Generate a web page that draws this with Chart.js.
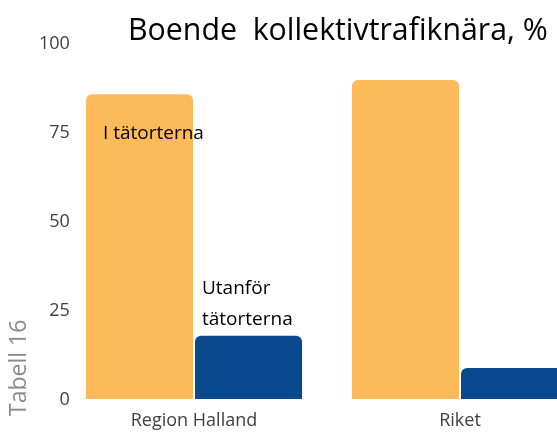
<!DOCTYPE html>
<html>
<head>
<meta charset="utf-8">
<script src="https://cdn.jsdelivr.net/npm/chart.js@4"></script>
<style>
  html, body { margin: 0; padding: 0; background: #fff; overflow: hidden; }
  #wrap { position: relative; width: 557px; height: 432px; overflow: hidden; }
  #c { position: absolute; left: 0; top: 0; }
  #title { position: absolute; left: 128px; top: 13px; font-family: 'Open Sans', sans-serif; font-size: 30.3px;
           line-height: 31px; color: #000; white-space: pre; }
  #side { position: absolute; left: 6px; top: 416px; transform-origin: 0 0; transform: rotate(-90deg);
          font-family: 'Open Sans', sans-serif; font-size: 23px; color: #8a8a8a; white-space: nowrap; line-height: 23px; }
</style>
</head>
<body>
<div id="wrap">
  <canvas id="c" width="680" height="432"></canvas>
  <div id="title"></div>
  <div id="side"></div>
</div>
<script>
const titleText = 'Boende  kollektivtrafiknära, %';
const sideText = 'Tabell 16';
const categories = ['Region Halland', 'Riket'];
const seriesNames = ['I tätorterna', 'Utanför tätorterna'];
const seriesLabelLines = [['I tätorterna'], ['Utanför', 'tätorterna']];
const inTatort = [86.2, 90.2];
const utanforTatort = [18.3, 9.3];
const yTicks = [0, 25, 50, 75, 100];
const colors = ['#FDBA5A', '#094A8E'];

const FONT = "'Open Sans', sans-serif";
document.getElementById('title').textContent = titleText;
document.getElementById('side').textContent = sideText;

const seriesLabelPlugin = {
  id: 'seriesLabels',
  afterDatasetsDraw(chart) {
    const ctx = chart.ctx;
    ctx.save();
    ctx.fillStyle = '#000';
    ctx.font = '19px ' + FONT;
    ctx.textAlign = 'left';
    ctx.textBaseline = 'alphabetic';
    const b0 = chart.getDatasetMeta(0).data[0];
    ctx.fillText(seriesLabelLines[0][0], b0.x - b0.width / 2 + 18, b0.y + 46);
    const b1 = chart.getDatasetMeta(1).data[0];
    const lines = seriesLabelLines[1];
    ctx.fillText(lines[0], b1.x - b1.width / 2 + 8, b1.y - 41);
    ctx.fillText(lines[1], b1.x - b1.width / 2 + 8, b1.y - 10);
    ctx.restore();
  }
};

new Chart(document.getElementById('c'), {
  type: 'bar',
  data: {
    labels: categories,
    datasets: [
      { label: seriesNames[0], data: inTatort, backgroundColor: colors[0], borderColor: '#ffffff', borderWidth: 1,
        borderRadius: { topLeft: 7, topRight: 7, bottomLeft: 0, bottomRight: 0 }, borderSkipped: false },
      { label: seriesNames[1], data: utanforTatort, backgroundColor: colors[1], borderColor: '#ffffff', borderWidth: 1,
        borderRadius: { topLeft: 7, topRight: 7, bottomLeft: 0, bottomRight: 0 }, borderSkipped: false }
    ]
  },
  options: {
    responsive: false,
    animation: false,
    devicePixelRatio: 1,
    layout: { padding: { left: 0, right: 87, top: 44, bottom: 0 } },
    datasets: { bar: { categoryPercentage: 0.82, barPercentage: 1.0 } },
    plugins: {
      legend: { display: false },
      tooltip: { enabled: false },
      title: { display: false }
    },
    scales: {
      x: {
        afterFit(scale) { scale.height = 32; },
        grid: { display: false, drawTicks: false },
        border: { display: false },
        ticks: { color: '#404040', font: { family: FONT, size: 18 }, padding: 10 }
      },
      y: {
        min: 0, max: 100,
        afterBuildTicks(scale) { scale.ticks = yTicks.map(v => ({ value: v })); },
        afterFit(scale) { scale.width = 61; },
        grid: { display: false, drawTicks: false },
        border: { display: false },
        ticks: { color: '#404040', font: { family: FONT, size: 18 }, mirror: true, crossAlign: 'far', padding: -22 }
      }
    }
  },
  plugins: [seriesLabelPlugin]
});
</script>
</body>
</html>
